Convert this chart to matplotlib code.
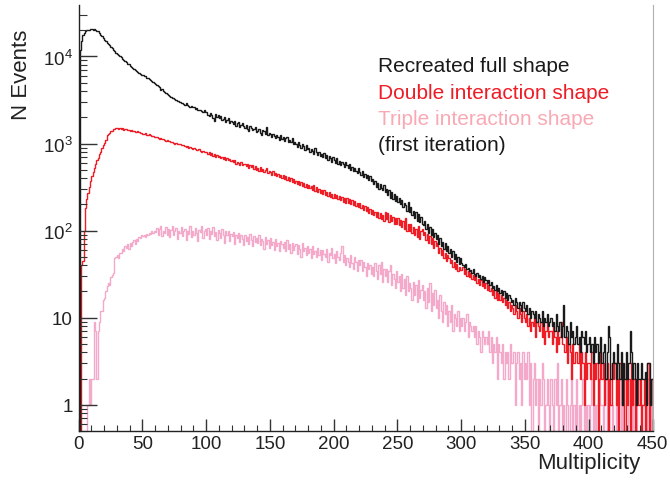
import numpy as np
import matplotlib.pyplot as plt
from matplotlib.ticker import FixedLocator, FixedFormatter, LogLocator, NullFormatter, MultipleLocator

plt.rcParams['font.family'] = ['Liberation Sans', 'DejaVu Sans']
plt.rcParams['mathtext.fontset'] = 'custom'
plt.rcParams['mathtext.rm'] = 'Liberation Sans'

# multiplicity bins, width 1, 0..450
bin_edges = np.arange(0, 451, 1)

full_shape = [
    0, 12000, 15000, 17500, 18500, 19500, 20000, 20300, 20000, 20500,
    20600, 20300, 20800, 20400, 19800, 19500, 18600, 17800, 17000, 16300,
    15600, 15000, 14300, 13900, 13400, 13000, 12500, 12000, 11500, 11100,
    10800, 10400, 10100, 9800, 9400, 9200, 8900, 8600, 8300, 8100,
    7800, 7600, 7400, 7200, 7000, 6900, 6700, 6500, 6300, 6200,
    6100, 5950, 5900, 5700, 5600, 5500, 5350, 5200, 5100, 5000,
    4850, 4700, 4550, 4450, 4100, 4200, 4000, 3900, 3850, 3700,
    3600, 3550, 3450, 3350, 3350, 3250, 3200, 3100, 3050, 3000,
    2950, 2900, 2850, 2800, 2900, 2750, 2700, 2650, 2700, 2600,
    2600, 2500, 2550, 2450, 2400, 2450, 2350, 2300, 2400, 2300,
    2300, 2150, 2050, 2250, 2100, 1950, 1800, 2200, 2000, 2100,
    1950, 2050, 1850, 1900, 2000, 1780, 1850, 1950, 1700, 1820,
    1750, 1680, 1820, 1600, 1700, 1750, 1560, 1650, 1720, 1580,
    1500, 1620, 1450, 1380, 1600, 1520, 1420, 1480, 1560, 1350,
    1400, 1480, 1330, 1250, 1420, 1380, 1300, 1560, 1250, 1320,
    1280, 1180, 1300, 1230, 1150, 1270, 1200, 1100, 1250, 1140,
    1180, 1080, 1150, 1200, 1030, 1100, 1050, 1150, 980, 1040,
    1000, 920, 1030, 960, 880, 990, 930, 850, 960, 870,
    900, 800, 860, 830, 760, 880, 790, 740, 810, 720,
    760, 700, 780, 680, 730, 650, 720, 690, 620, 700,
    640, 600, 680, 580, 630, 560, 620, 590, 540, 610,
    560, 520, 590, 500, 545, 480, 530, 490, 460, 520,
    470, 430, 490, 410, 450, 400, 440, 380, 420, 370,
    390, 340, 370, 320, 355, 300, 340, 310, 290, 330,
    280, 300, 255, 290, 240, 275, 230, 260, 220, 250,
    215, 240, 200, 225, 185, 210, 195, 170, 215, 165,
    185, 150, 170, 140, 165, 130, 155, 125, 145, 120,
    115, 130, 105, 120, 95, 110, 90, 105, 85, 95,
    80, 90, 70, 82, 66, 75, 62, 72, 58, 66,
    56, 62, 50, 58, 47, 54, 44, 50, 41, 48,
    42, 40, 38, 41, 36, 37, 34, 35, 33, 36,
    32, 30, 33, 29, 31, 28, 30, 26, 29, 27,
    25, 27, 24, 26, 22, 23, 21, 24, 20, 22,
    19, 21, 18, 20, 17, 19, 16, 18, 17, 15,
    16, 14, 17, 15, 13, 15, 14, 12, 15, 13,
    12, 14, 11, 13, 10, 12, 11, 10, 12, 9,
    11, 10, 9, 12, 8, 10, 9, 11, 8, 9,
    10, 8, 9, 7, 11, 8, 7, 9, 6, 8,
    14, 6, 8, 7, 5, 9, 6, 7, 5, 6,
    8, 5, 6, 4, 7, 6, 5, 7, 4, 5,
    6, 4, 5, 3, 6, 4, 5, 3, 4, 6,
    3, 4, 5, 2, 4, 8, 6, 2, 3, 4,
    3, 2, 5, 3, 2, 4, 1, 3, 2, 4,
    2, 3, 7, 4, 2, 3, 2, 1, 3, 2,
    2, 3, 2, 2, 2.4, 1, 3, 3, 1, 2,
]

double_shape = [
    0, 0, 40, 45, 100, 180, 230, 270, 320, 370,
    420, 475, 520, 580, 640, 690, 750, 810, 880, 950,
    1020, 1100, 1240, 1280, 1330, 1400, 1380, 1450, 1480, 1500,
    1520, 1470, 1500, 1450, 1490, 1440, 1460, 1480, 1420, 1440,
    1400, 1430, 1390, 1410, 1370, 1350, 1380, 1340, 1320, 1330,
    1300, 1290, 1310, 1270, 1260, 1280, 1240, 1220, 1230, 1200,
    1180, 1190, 1160, 1140, 1150, 1120, 1130, 1100, 1080, 1090,
    1070, 1060, 1040, 1050, 1020, 1000, 1010, 990, 980, 1000,
    960, 970, 950, 940, 920, 930, 900, 910, 890, 870,
    880, 860, 850, 840, 860, 830, 810, 820, 800, 790,
    790, 750, 800, 740, 770, 720, 760, 710, 740, 700,
    720, 680, 700, 660, 710, 650, 680, 640, 670, 630,
    650, 610, 640, 590, 620, 600, 570, 610, 560, 590,
    580, 550, 590, 530, 570, 540, 560, 510, 550, 500,
    530, 490, 540, 480, 510, 470, 500, 520, 460, 480,
    470, 440, 480, 430, 460, 420, 450, 410, 440, 400,
    430, 395, 420, 380, 410, 370, 400, 365, 390, 355,
    375, 345, 370, 335, 360, 325, 350, 320, 345, 310,
    335, 305, 325, 290, 330, 285, 315, 280, 300, 270,
    295, 265, 290, 255, 280, 250, 275, 245, 265, 240,
    265, 235, 255, 228, 250, 222, 245, 215, 240, 210,
    238, 205, 228, 200, 222, 195, 218, 190, 210, 185,
    205, 180, 198, 172, 192, 168, 185, 160, 178, 155,
    172, 150, 165, 145, 162, 140, 158, 135, 150, 130,
    165, 135, 158, 125, 150, 130, 142, 120, 140, 118,
    138, 115, 132, 110, 128, 105, 140, 100, 120, 98,
    118, 95, 110, 90, 105, 85, 112, 80, 100, 104,
    88, 96, 78, 92, 72, 86, 70, 82, 64, 76,
    66, 72, 56, 64, 52, 60, 48, 56, 45, 52,
    48, 42, 46, 38, 44, 36, 41, 34, 38, 35,
    35, 38, 32, 36, 30, 34, 29, 33, 28, 31,
    27, 30, 25, 28, 24, 27, 23, 26, 22, 25,
    21, 24, 20, 22, 18, 21, 17, 20, 16, 19,
    16, 18, 15, 17, 14, 16, 13, 15, 12, 14,
    13, 11, 14, 12, 10, 13, 11, 9, 12, 10,
    9, 11, 8, 10, 7, 9, 8, 10, 6, 9,
    8, 7, 9, 6, 8, 5, 7, 9, 6, 7,
    7, 5, 8, 6, 4, 7, 5, 6, 9, 5,
    5, 4, 6, 3, 5, 4, 2, 5, 3, 4,
    4, 3, 5, 2, 4, 3, 1, 4, 2, 3,
    3, 2, 4, 1, 3, 2, 3, 0, 2, 4,
    2, 3, 1, 2, 3, 0, 2, 1, 3, 2,
    3, 1, 2, 0, 3, 2, 1, 2, 0, 3,
    1, 2, 0, 3, 1, 2, 0, 1, 2, 1,
    2, 0, 1, 2, 0, 1, 3, 0, 1, 2,
]

triple_shape = [
    0, 0, 0, 0, 0, 0, 0, 1, 2, 1,
    2, 2, 9, 7, 2, 7, 9, 12, 12, 16,
    17, 20, 23, 25, 24, 29, 31, 33, 48, 50,
    52, 48, 56, 55, 62, 58, 67, 64, 70, 62,
    72, 66, 75, 78, 70, 80, 76, 85, 82, 88,
    86, 90, 84, 92, 88, 95, 91, 98, 94, 100,
    96, 108, 88, 104, 112, 86, 100, 94, 110, 90,
    105, 84, 102, 112, 88, 98, 106, 80, 100, 95,
    110, 86, 98, 104, 78, 100, 92, 112, 84, 99,
    88, 108, 94, 76, 102, 96, 114, 82, 98, 104,
    90, 106, 80, 100, 92, 110, 86, 96, 78, 102,
    94, 82, 104, 88, 72, 98, 90, 100, 76, 92,
    86, 96, 70, 90, 82, 94, 74, 88, 80, 68,
    90, 76, 84, 70, 92, 78, 66, 86, 74, 82,
    72, 88, 68, 80, 76, 62, 84, 70, 78, 64,
    82, 68, 74, 60, 80, 66, 72, 58, 76, 70,
    64, 74, 58, 78, 62, 70, 56, 72, 60, 66,
    70, 54, 68, 62, 50, 72, 58, 64, 52, 66,
    56, 62, 48, 66, 54, 58, 50, 64, 52, 60,
    46, 60, 54, 50, 62, 44, 56, 52, 64, 48,
    54, 42, 58, 50, 46, 56, 66, 44, 52, 40,
    48, 44, 38, 52, 42, 36, 50, 44, 34, 46,
    40, 46, 34, 44, 38, 30, 42, 36, 40, 32,
    38, 30, 42, 34, 28, 40, 32, 44, 26, 36,
    30, 36, 26, 34, 40, 24, 32, 28, 22, 34,
    26, 30, 20, 32, 22, 28, 18, 30, 20, 25,
    22, 16, 26, 18, 24, 15, 27, 17, 21, 24,
    16, 20, 13, 22, 15, 25, 12, 19, 14, 21,
    13, 16, 10, 18, 12, 9, 15, 11, 14, 8,
    12, 9, 14, 7, 11, 10, 8, 12, 7, 10,
    8, 10, 7, 9, 11, 6, 9, 8, 7, 8,
    6, 8, 5, 7, 6, 4, 7, 6, 5, 6,
    5, 7, 4, 6, 3, 5, 4, 6, 2, 5,
    4, 3, 5, 2, 4, 3, 4, 2, 5, 3,
    3, 4, 1, 3, 4, 2, 3, 1, 4, 2,
    3, 2, 4, 1, 3, 0, 2, 3, 1, 2,
    0, 2, 1, 3, 2, 0, 1, 2, 1, 0,
    2, 1, 0, 2, 1, 3, 0, 1, 2, 0,
    1, 0, 2, 1, 0, 1, 2, 0, 1, 0,
    2, 0, 1, 0, 1, 2, 0, 1, 0, 1,
    0, 1, 2, 0, 1, 0, 1, 0, 2, 1,
    1, 0, 1, 2, 0, 1, 0, 0, 1, 0,
    0, 1, 0, 1, 2, 0, 1, 0, 0, 1,
    1, 0, 0, 1, 0, 2, 0, 1, 0, 0,
    0, 1, 0, 0, 1, 0, 2, 0, 1, 0,
]

legend_lines = ['Recreated full shape', 'Double interaction shape',
                'Triple interaction shape', '(first iteration)']
legend_colors = ['#1a1a1a', '#ee1c25', '#f9a9b4', '#1a1a1a']

x_ticks = [0, 50, 100, 150, 200, 250, 300, 350, 400, 450]
y_ticks = [1, 10, 100, 1000, 10000]
y_tick_labels = ['1', '10', r'$\mathregular{10^{2}}$', r'$\mathregular{10^{3}}$', r'$\mathregular{10^{4}}$']

fig = plt.figure(figsize=(6.7, 4.81), dpi=100)
ax = fig.add_axes([78.5 / 670, 49 / 481, 574 / 670, 426 / 481])

ax.stairs(triple_shape, bin_edges, color='#f4a9cb', lw=1.0, baseline=0)
ax.stairs(double_shape, bin_edges, color='#ee1c25', lw=1.0, baseline=0)
ax.stairs(full_shape, bin_edges, color='#1a1a1a', lw=1.0, baseline=0)

ax.set_yscale('log', nonpositive='clip')
ax.set_xlim(0, 450)
ax.set_ylim(0.5, 39000)

ax.xaxis.set_major_locator(FixedLocator(x_ticks))
ax.xaxis.set_minor_locator(MultipleLocator(10))
ax.yaxis.set_major_locator(FixedLocator(y_ticks))
ax.yaxis.set_major_formatter(FixedFormatter(y_tick_labels))
ax.yaxis.set_minor_locator(LogLocator(base=10, subs=np.arange(2, 10), numticks=20))
ax.yaxis.set_minor_formatter(NullFormatter())

ax.tick_params(axis='both', which='both', direction='in', colors='#333333', labelsize=13.5,
               labelcolor='#222222', top=False, right=False)
ax.tick_params(axis='x', which='major', length=9, width=1.0, pad=3)
ax.tick_params(axis='x', which='minor', length=4.5, width=0.8)
ax.tick_params(axis='y', which='major', length=13, width=1.0, pad=4)
ax.tick_params(axis='y', which='minor', length=6, width=0.8)

ax.spines['top'].set_visible(False)
ax.spines['left'].set_color('#222222')
ax.spines['bottom'].set_color('#222222')
ax.spines['right'].set_color('#b0b0b0')
ax.spines['right'].set_linewidth(0.8)
for side in ['left', 'bottom']:
    ax.spines[side].set_linewidth(1.0)

fig.text(22 / 670, 1 - 75 / 481, 'N Events', rotation=90, fontsize=16,
         ha='center', va='center', color='#222222')
fig.text(640 / 670, 1 - 464 / 481, 'Multiplicity', fontsize=16,
         ha='right', va='center', color='#222222')

for i, (txt, col) in enumerate(zip(legend_lines, legend_colors)):
    fig.text(378 / 670, 1 - (67 + 26.3 * i) / 481, txt, fontsize=15,
             ha='left', va='center', color=col)

plt.savefig('out.png', dpi=100)
